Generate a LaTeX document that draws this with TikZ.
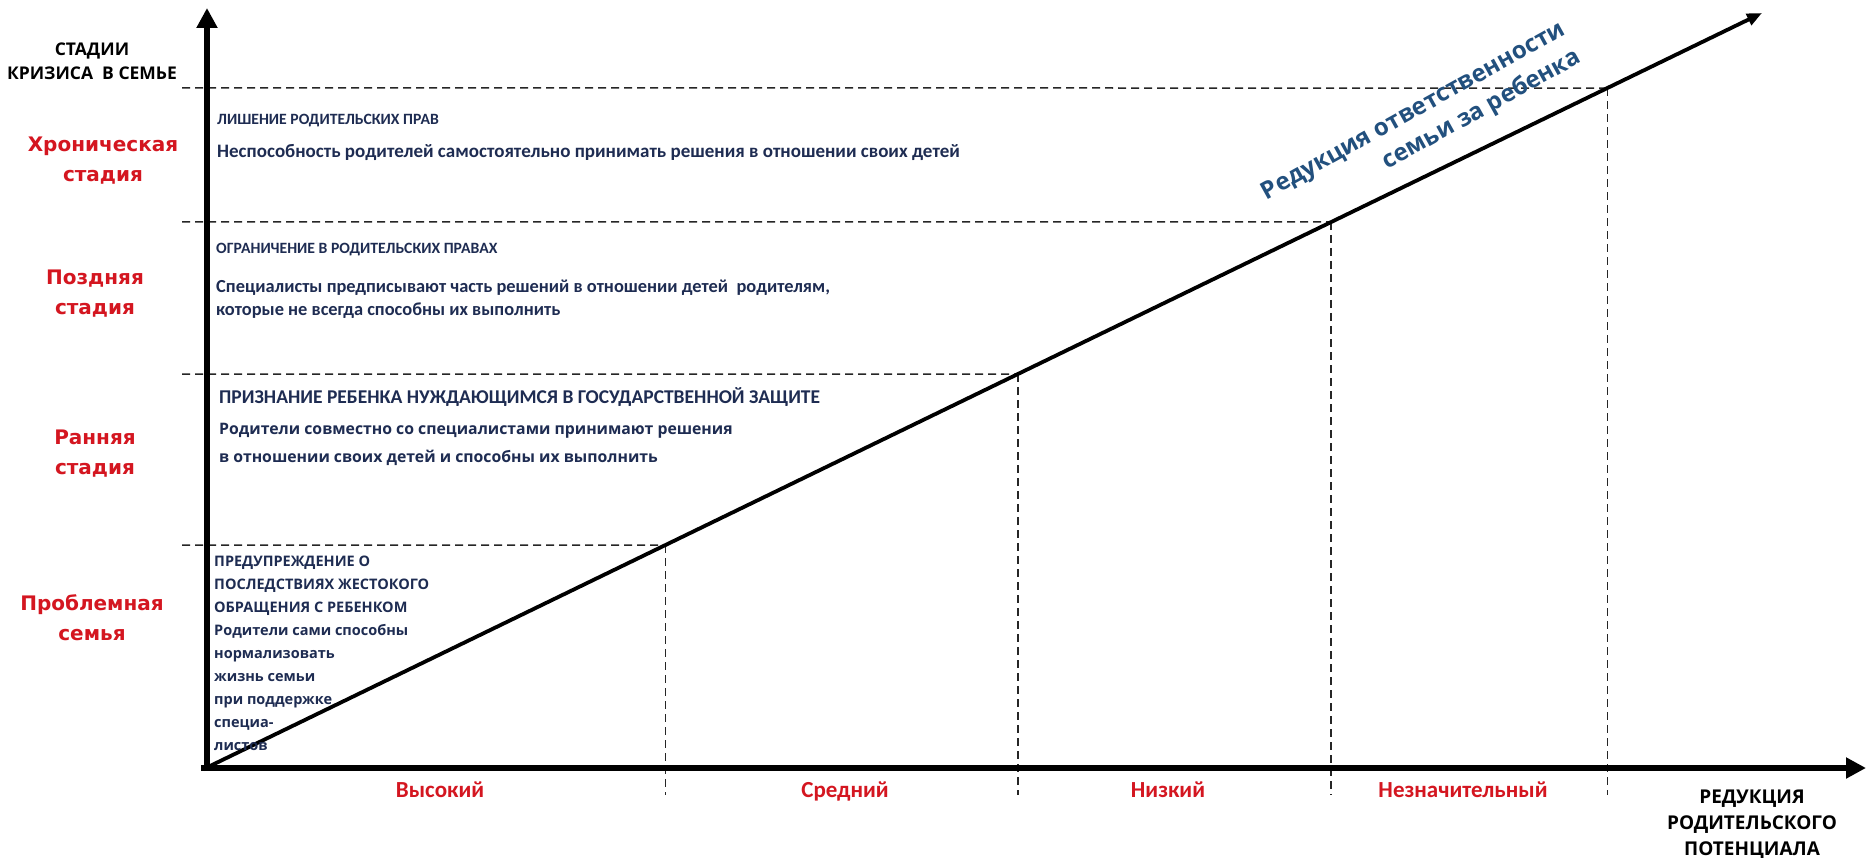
\documentclass[tikz,border=0pt]{standalone}
\usepackage{fontspec}
\setmainfont{Carlito}
\newfontfamily\osans{Open Sans}
\newfontfamily\dvs{DejaVu Sans}
\newfontfamily\carl{Carlito}
\usetikzlibrary{arrows.meta,intersections}
\definecolor{navy}{RGB}{30,44,82}
\definecolor{redlab}{RGB}{212,22,32}
\definecolor{bluelab}{RGB}{34,80,126}
\begin{document}
\begin{tikzpicture}[x=1pt,y=-1pt,
  axisline/.style={line width=6pt,-{Triangle[length=20pt,width=20pt]}},
  diagline/.style={line width=3.8pt,-{Triangle[length=15pt,width=12pt]}},
  guide/.style={line width=1.5pt,dash pattern=on 8pt off 5pt,black!85},
  header/.style={font=\osans\bfseries\fontsize{17.5}{24}\selectfont,anchor=base,inner sep=0,align=center},
  stage/.style={font=\dvs\bfseries\fontsize{20}{30}\selectfont,text=redlab,anchor=base,inner sep=0,align=center},
  blockhead/.style={font=\carl\bfseries\fontsize{15.7}{20}\selectfont,text=navy,anchor=base west,inner sep=0},
  bighead/.style={font=\carl\bfseries\fontsize{19.5}{22}\selectfont,text=navy,anchor=base west,inner sep=0},
  blockbody/.style={font=\carl\bfseries\fontsize{19}{23}\selectfont,text=navy,anchor=base west,inner sep=0,align=left},
  widebody/.style={font=\osans\bfseries\fontsize{15.8}{28}\selectfont,text=navy,anchor=base west,inner sep=0,align=left},
  smallblock/.style={font=\osans\bfseries\fontsize{14.5}{23}\selectfont,text=navy,anchor=base west,inner sep=0,align=left},
  levellab/.style={font=\carl\bfseries\fontsize{23}{26}\selectfont,text=redlab,anchor=base,inner sep=0},
  axislab/.style={font=\osans\bfseries\fontsize{19}{26}\selectfont,anchor=base,inner sep=0,align=center},
  diaglab/.style={font=\osans\bfseries\fontsize{24}{32}\selectfont,text=bluelab,inner sep=0,align=right}
]
\fill[white] (0,0) rectangle (1868,858);
\useasboundingbox (0,0) rectangle (1868,858);

% axes
\coordinate (O) at (207,768);
\coordinate (Ytop) at (207,8);
\coordinate (Xend) at (1866,768);
\coordinate (Dstart) at (210,766);
\coordinate (Dtip) at (1762,13);

% guide intersections
\path[name path=diagpath] (Dstart) -- (Dtip);
\foreach \yy/\nm in {88/P4,222/P3,374/P2,545/P1}{
  \path[name path=hl] (182,\yy) -- (1868,\yy);
  \path[name intersections={of=diagpath and hl, by=\nm}];
}
\coordinate (L1) at (182,545);
\coordinate (L2) at (182,374);
\coordinate (L3) at (182,222);
\coordinate (L4) at (182,88);

\foreach \p/\l in {P1/L1,P2/L2,P3/L3,P4/L4}{
  \draw[guide] (\l) -- (\p);
  \draw[guide] (\p) -- (\p |- 0,795);
}

\draw[axisline] (O) ++(0,3) -- (Ytop);
\draw[axisline] (201,768) -- (Xend);
\draw[diagline] (Dstart) -- (Dtip);

% left header and stage labels (base = last line)
\node[header] (hdr) at (92,80) {СТАДИИ\\КРИЗИСА\ \ В СЕМЬЕ};
\node[stage] (s4) at (103,182) {Хроническая\\стадия};
\node[stage] (s3) at (95,315) {Поздняя\\стадия};
\node[stage] (s2) at (95,474) {Ранняя\\стадия};
\node[stage] (s1) at (92,640) {Проблемная\\семья};

% block texts
\node[blockhead] (b4h) at (217,125) {ЛИШЕНИЕ РОДИТЕЛЬСКИХ ПРАВ};
\node[blockbody] (b4b) at (217,158) {Неспособность родителей самостоятельно принимать решения в отношении своих детей};

\node[blockhead] (b3h) at (216,254) {ОГРАНИЧЕНИЕ В РОДИТЕЛЬСКИХ ПРАВАХ};
\node[blockbody,font=\carl\bfseries\fontsize{18.4}{23}\selectfont] (b3b) at (216,316) {Специалисты предписывают часть решений в отношении детей\ \ родителям,\\которые не всегда способны их выполнить};

\node[bighead] (b2h) at (219,403) {ПРИЗНАНИЕ РЕБЕНКА НУЖДАЮЩИМСЯ В ГОСУДАРСТВЕННОЙ ЗАЩИТЕ};
\node[widebody] (b2b) at (219,462) {Родители совместно со специалистами принимают решения\\в отношении своих детей и способны их выполнить};

\node[smallblock] (b1) at (214,750) {ПРЕДУПРЕЖДЕНИЕ О\\ПОСЛЕДСТВИЯХ ЖЕСТОКОГО\\ОБРАЩЕНИЯ С РЕБЕНКОМ\\Родители сами способны\\нормализовать\\жизнь семьи\\при поддержке\\специа-\\листов};

% bottom level labels
\node[levellab] (v1) at (440,797) {Высокий};
\node[levellab] (v2) at (845,797) {Средний};
\node[levellab] (v3) at (1168,797) {Низкий};
\node[levellab] (v4) at (1463,797) {Незначительный};
\node[axislab] (xl) at (1752,855) {РЕДУКЦИЯ\\РОДИТЕЛЬСКОГО\\ПОТЕНЦИАЛА};

% diagonal label
\node[diaglab,rotate=29] (dl) at (1422,126) {Редукция ответственности\\семьи за ребенка};
\end{tikzpicture}
\end{document}
